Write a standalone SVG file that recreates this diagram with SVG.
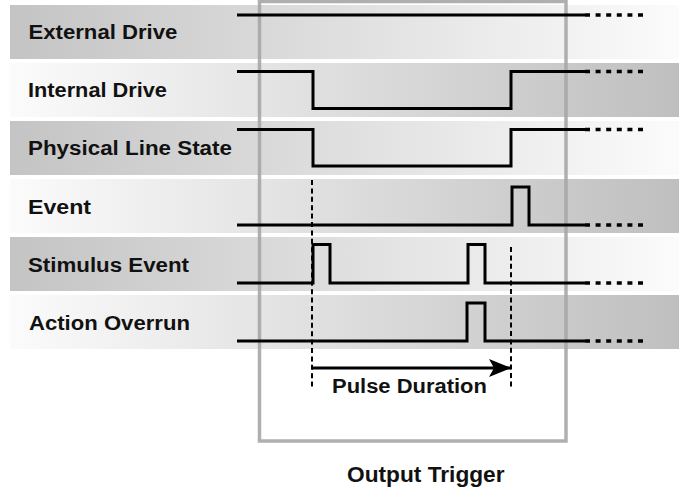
<svg xmlns="http://www.w3.org/2000/svg" width="679" height="489" viewBox="0 0 679 489">
<defs>
<linearGradient id="gOdd" x1="10" y1="0" x2="679" y2="0" gradientUnits="userSpaceOnUse">
<stop offset="0" stop-color="#c4c4c4"/><stop offset="1" stop-color="#fbfbfb"/>
</linearGradient>
<linearGradient id="gEven" x1="10" y1="0" x2="679" y2="0" gradientUnits="userSpaceOnUse">
<stop offset="0" stop-color="#fbfbfb"/><stop offset="1" stop-color="#bfbfbf"/>
</linearGradient>
<marker id="arr" markerUnits="userSpaceOnUse" markerWidth="24" markerHeight="20" refX="22" refY="9" orient="auto">
<path d="M0,0 L22,9 L0,18 L5,9 Z" fill="#000"/>
</marker>
</defs>
<style>
.lbl{font-family:"Liberation Sans",Arial,sans-serif;font-size:20.5px;font-weight:bold;fill:#111}
.sig{fill:none;stroke:#000;stroke-width:3;stroke-linejoin:miter}
.dots{fill:none;stroke:#000;stroke-width:3.5;stroke-dasharray:5 5.6}
.guide{fill:none;stroke:#000;stroke-width:2;stroke-dasharray:5 3.4}
</style>
<g id="bands">
<rect x="10" y="5" width="669" height="54" fill="url(#gOdd)"/>
<rect x="10" y="63" width="669" height="54" fill="url(#gEven)"/>
<rect x="10" y="121" width="669" height="54" fill="url(#gOdd)"/>
<rect x="10" y="179" width="669" height="54" fill="url(#gEven)"/>
<rect x="10" y="237" width="669" height="54" fill="url(#gOdd)"/>
<rect x="10" y="295" width="669" height="54" fill="url(#gEven)"/>
</g>
<g id="output-trigger">
<rect x="259.5" y="1.5" width="306.5" height="439.5" fill="none" stroke="#a6a6a6" stroke-width="3.5" opacity="0.9"/>
<text class="lbl" transform="translate(347,481.5) scale(1.032,1)" style="font-size:22px">Output Trigger</text>
</g>
<g id="labels">
<text class="lbl" transform="translate(28.5,39) scale(1.08,1)">External Drive</text>
<text class="lbl" transform="translate(28,97) scale(1.061,1)">Internal Drive</text>
<text class="lbl" transform="translate(28,155) scale(1.092,1)">Physical Line State</text>
<text class="lbl" transform="translate(28,213.5) scale(1.129,1)">Event</text>
<text class="lbl" transform="translate(28,271.5) scale(1.087,1)">Stimulus Event</text>
<text class="lbl" transform="translate(29,329.5) scale(1.079,1)">Action Overrun</text>
</g>
<g id="external-drive">
<path class="sig" d="M237,15 H585"/>
<path class="dots" d="M585,15 H643"/>
</g>
<g id="internal-drive">
<path class="sig" d="M237,71.5 H313 V108.5 H511 V71.5 H585"/>
<path class="dots" d="M585,71.5 H643"/>
</g>
<g id="physical-line-state">
<path class="sig" d="M237,129.5 H313 V166 H511 V129.5 H585"/>
<path class="dots" d="M585,129.5 H643"/>
</g>
<g id="event">
<path class="sig" d="M237,225 H512 V187 H529 V225 H585"/>
<path class="dots" d="M585,225 H643"/>
</g>
<g id="stimulus-event">
<path class="sig" d="M237,283 H313 V244.5 H330 V283 H468 V244.5 H485 V283 H585"/>
<path class="dots" d="M585,283 H643"/>
</g>
<g id="action-overrun">
<path class="sig" d="M237,341 H467 V303 H485 V341 H585"/>
<path class="dots" d="M585,341 H643"/>
</g>
<g id="connectors">
<path class="guide" d="M312,180 V388"/>
<path class="guide" d="M511,247 V388"/>
<path class="sig" d="M312,368 H511" marker-end="url(#arr)"/>
</g>
<g id="pulse-duration">
<text class="lbl" transform="translate(332,393) scale(1.046,1)" style="font-size:21px">Pulse Duration</text>
</g>
</svg>
